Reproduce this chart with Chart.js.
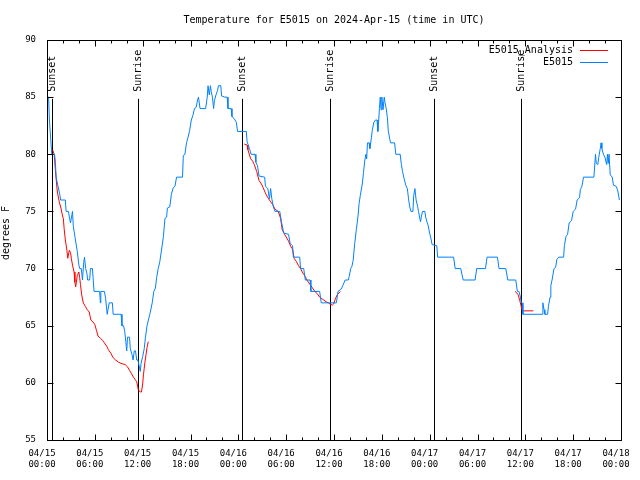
<!DOCTYPE html>
<html><head><meta charset="utf-8">
<script src="https://cdn.jsdelivr.net/npm/chart.js@4"></script>
<style>html,body{margin:0;padding:0;background:#fff}</style>
</head><body>
<canvas id="c" width="640" height="480"></canvas>
<script>
const chartTitle = 'Temperature for E5015 on 2024-Apr-15 (time in UTC)';
const yAxisLabel = 'degrees F';
const xTickDates = ['04/15','04/15','04/15','04/15','04/16','04/16','04/16','04/16','04/17','04/17','04/17','04/17','04/18'];
const xTickTimes = ['00:00','06:00','12:00','18:00','00:00','06:00','12:00','18:00','00:00','06:00','12:00','18:00','00:00'];
const sunHours = [0.6, 11.45, 24.5, 35.45, 48.6, 59.5];
const sunLabels = ['Sunset','Sunrise','Sunset','Sunrise','Sunset','Sunrise'];
const seriesNames = ['E5015_Analysis','E5015'];

const e5015Hours = [0.0,0.2,0.3,0.45,0.6,0.95,1.05,1.15,1.35,1.6,1.7,2.3,2.4,2.7,2.8,2.95,3.2,3.3,3.5,3.8,4.0,4.1,4.3,4.45,4.6,4.7,4.85,5.0,5.1,5.35,5.45,5.7,5.9,6.6,6.7,6.75,7.2,7.35,7.55,7.8,8.2,8.3,9.3,9.4,9.6,9.75,9.9,10.0,10.1,10.35,10.45,10.65,10.8,10.95,11.1,11.25,11.4,11.55,11.7,11.8,12.0,12.2,12.35,12.55,12.75,12.9,13.2,13.4,13.6,13.75,13.95,14.15,14.4,14.6,14.8,15.0,15.1,15.4,15.6,15.85,16.05,16.25,17.0,17.1,17.3,17.5,17.7,17.9,18.1,18.3,18.5,18.7,18.9,19.0,19.2,19.9,20.1,20.2,20.35,20.5,20.6,20.75,20.9,21.0,21.2,21.4,21.5,21.8,21.9,22.3,22.6,22.7,23.1,23.2,23.5,23.75,23.9,25.0,25.1,25.4,25.6,26.1,26.2,26.4,26.6,27.3,27.4,27.7,27.9,28.05,28.2,28.4,28.6,29.2,29.4,29.7,30.3,30.5,30.8,30.9,31.7,31.8,32.2,32.4,33.0,33.1,34.2,34.4,36.3,36.5,36.9,37.1,37.4,37.8,37.9,38.1,38.25,38.4,38.6,38.8,39.0,39.15,39.3,39.55,39.7,39.85,40.0,40.1,40.2,40.4,40.5,40.7,40.8,41.0,41.2,41.4,41.5,41.6,41.7,41.8,41.9,42.0,42.15,42.3,42.4,42.55,42.7,42.8,43.0,43.1,43.6,43.75,44.3,44.45,44.6,44.75,45.0,45.2,45.35,45.5,45.65,45.9,46.0,46.15,46.3,46.5,46.6,46.85,46.95,47.1,47.4,47.5,47.7,47.8,48.0,48.2,48.3,48.9,49.0,51.0,51.2,51.9,52.2,53.7,53.9,55.0,55.2,56.5,56.7,57.55,57.8,58.8,59.0,59.2,59.35,59.5,59.6,59.7,62.1,62.2,62.35,62.45,62.8,62.9,63.1,63.2,63.35,63.6,63.8,63.95,64.2,64.8,64.9,65.1,65.3,65.5,65.8,66.0,66.3,66.5,66.8,66.9,67.1,67.3,68.6,68.8,68.9,69.1,69.2,69.4,69.5,69.6,69.8,70.0,70.2,70.3,70.4,70.5,70.65,70.9,71.05,71.4,71.6,71.8];
const e5015Temps = [85,85,83,81.5,80,80,79.3,78,77.3,76.5,76,76,75,75,74.5,74,75,73.7,72.8,71.5,70.3,70,70,69,70.5,71,70,69.6,69,69,70,70,68,68,67,68,68,67.4,66,67,67,66,66,65,65,64.5,63.5,62.8,64,64,63,62.5,62,62.8,62.8,62,62,61.5,61,61.7,62.3,63,64,65,65.6,66,67,68,68.3,69.2,70,70.6,71.8,72.8,74.4,74.5,75.3,75.4,76.5,77.1,77.2,78,78,79.9,80,81,81.5,82.1,83,83.4,84,84.1,84.8,85,84,84,85,86,85.2,86,85.5,85,84,84.7,85.2,85.6,86,86,85.1,85,85,84,84,83.3,83.1,82.8,82,82,81.1,80.5,80,80,79.3,79,78.1,78,77.2,77,76.1,77,76.1,75.4,75,75,74.1,73.1,73,72.2,72,71,71,70,70,69,69,68,68,67,67,68,68.2,68.5,69,69,69.3,70,70.2,70.7,72.2,73.4,74.5,75.7,76.4,77.4,78.4,79.4,80,79.6,81,81,80.5,81.5,82.1,82.8,83,83,82,82.9,84,85,83.9,85,83.9,85,84.5,84,83.2,82.1,81.3,81,81,80,80,79.1,78.5,78,77.3,77,76.1,75.4,75,75,76.4,77,76,75.4,75,74.1,74.5,75,75,74.5,74,73.8,73.1,72.5,72.1,72,71,71,70,70,69,69,70,70,71,71,70,70,69,69,68,68,67.6,67,67,66,66,67,66.4,66,66,66.7,67.5,68.5,69,70,70.1,70.8,71,71,72,72.8,73,74,74.2,75,75.2,76,76.2,76.9,77.2,78,78,80,79.2,79.1,79.7,80.5,81,80.5,80,79.7,79.1,80,79.2,80,78.2,78,77.3,77.2,76.8,76];

const analysisHours = [0.7,0.9,1.1,1.3,1.55,1.75,1.95,2.05,2.15,2.3,2.5,2.6,2.8,2.95,3.05,3.2,3.4,3.5,3.6,3.8,4.0,4.1,4.2,4.35,4.55,4.8,5.05,5.3,5.5,5.8,6.0,6.2,6.4,6.7,7.0,7.2,7.5,7.7,8.0,8.3,8.6,9.0,9.3,9.8,10.1,10.35,10.6,10.85,11.05,11.25,11.45,11.7,11.85,12.0,12.1,12.3,12.45,12.55,12.7,
  18.0,
  24.75,25.1,25.2,25.55,25.8,26.0,26.3,26.6,26.9,27.1,27.4,27.7,28.0,28.3,28.6,29.0,29.3,29.5,29.8,30.3,30.6,30.8,31.0,31.3,31.5,31.8,32.1,32.4,32.6,33.0,33.3,33.6,33.9,34.2,34.6,35.0,35.3,35.5,35.8,35.95,36.2,36.4,36.8,
  48.0,
  58.7,58.9,59.1,59.3,59.45,59.55,59.7,61.0];
const analysisTemps = [80.4,80,78.2,76.7,75.8,75.3,74.6,74.4,73.5,72.5,71.6,70.9,71.6,71.4,70.9,70.3,69.7,68.8,68.4,69.4,69.7,69.2,68.6,67.7,67,66.7,66.4,66.2,65.5,65.3,65.1,64.6,64.1,63.9,63.7,63.5,63.2,62.9,62.6,62.2,62,61.8,61.7,61.6,61.4,61.1,60.8,60.5,60.3,60.1,59.4,59.2,59.2,59.9,60.7,61.9,62.6,63.1,63.6,
  null,
  80.9,80.8,80.4,79.6,79.4,79.1,78.5,77.7,77.4,77.1,76.6,76.2,75.9,75.6,75.2,75.0,74.4,73.4,73,72.4,71.9,71.7,70.9,70.6,70.3,70.0,69.6,69.3,69.0,68.6,68.3,68.0,67.8,67.5,67.3,67.1,67.0,66.9,66.8,66.9,67.4,67.7,68.0,
  null,
  68.0,67.9,67.7,67.2,66.8,66.4,66.3,66.3];

const MONO = '"DejaVu Sans Mono", monospace';
const RED = '#ff0000', BLUE = '#0080ff';

const toPoints = (xs, ys) => xs.map((x, i) => ({x, y: ys[i]}));

const decor = {
  id: 'decor',
  beforeDatasetsDraw(chart) {
    const {ctx, chartArea: a, scales: {x, y}} = chart;
    ctx.save();
    ctx.strokeStyle = '#000';
    ctx.lineWidth = 1;
    const lineTop = y.getPixelForValue(84.85);
    ctx.font = '10px ' + MONO;
    ctx.fillStyle = '#000';
    sunHours.forEach((h, i) => {
      const px = Math.round(x.getPixelForValue(h)) + 0.5;
      ctx.beginPath(); ctx.moveTo(px, lineTop); ctx.lineTo(px, a.bottom); ctx.stroke();
      ctx.save();
      ctx.translate(px, lineTop - 7);
      ctx.rotate(-Math.PI / 2);
      ctx.textAlign = 'left'; ctx.textBaseline = 'middle';
      ctx.fillText(sunLabels[i], 0, 0);
      ctx.restore();
    });
    ctx.restore();
  },
  afterDraw(chart) {
    const {ctx, chartArea: a, scales: {x, y}} = chart;
    ctx.save();
    ctx.strokeStyle = '#000';
    ctx.lineWidth = 1;
    const L = Math.round(a.left) + 0.5, R = Math.round(a.right) + 0.5;
    const T = Math.round(a.top) + 0.5, B = Math.round(a.bottom) + 0.5;
    ctx.beginPath();
    for (let h = 0; h <= 72; h += 2) {
      const px = Math.round(x.getPixelForValue(h)) + 0.5;
      const len = h % 6 === 0 ? 6 : 3;
      ctx.moveTo(px, B); ctx.lineTo(px, B - len);
      ctx.moveTo(px, T); ctx.lineTo(px, T + len);
    }
    for (let v = 55; v <= 90; v += 5) {
      const py = Math.round(y.getPixelForValue(v)) + 0.5;
      ctx.moveTo(L, py); ctx.lineTo(L + 6, py);
      ctx.moveTo(R, py); ctx.lineTo(R - 6, py);
    }
    ctx.stroke();
    ctx.strokeRect(L, T, R - L, B - T);

    ctx.fillStyle = '#000';
    // title, centred over the plot area
    ctx.font = '10px ' + MONO;
    ctx.textAlign = 'center'; ctx.textBaseline = 'middle';
    ctx.fillText(chartTitle, (a.left + a.right) / 2, 20);

    // legend
    ctx.textAlign = 'right';
    const cols = [RED, BLUE];
    seriesNames.forEach((n, i) => {
      const ly = a.top + 10 + i * 12;
      ctx.fillText(n, a.right - 48, ly);
      ctx.strokeStyle = cols[i];
      ctx.beginPath();
      ctx.moveTo(a.right - 41, Math.round(ly) + 0.5);
      ctx.lineTo(a.right - 13, Math.round(ly) + 0.5);
      ctx.stroke();
    });

    // y axis title
    ctx.save();
    ctx.translate(6, 233);
    ctx.rotate(-Math.PI / 2);
    ctx.textAlign = 'center'; ctx.textBaseline = 'middle';
    ctx.fillText(yAxisLabel, 0, 0);
    ctx.restore();
    ctx.restore();
  }
};

new Chart(document.getElementById('c'), {
  type: 'line',
  data: {
    datasets: [
      {label: seriesNames[0], data: toPoints(analysisHours, analysisTemps), borderColor: RED, borderWidth: 1, pointRadius: 0, tension: 0, spanGaps: false, order: 2},
      {label: seriesNames[1], data: toPoints(e5015Hours, e5015Temps), borderColor: BLUE, borderWidth: 1, pointRadius: 0, tension: 0, order: 1}
    ]
  },
  options: {
    responsive: false,
    animation: false,
    devicePixelRatio: 1,
    layout: {padding: {left: 0, right: 19, top: 40, bottom: 0}},
    plugins: {
      legend: {display: false},
      tooltip: {enabled: false},
      title: {display: false}
    },
    scales: {
      x: {
        type: 'linear', min: 0, max: 72,
        grid: {display: false}, border: {display: false},
        ticks: {
          stepSize: 6, autoSkip: false, maxRotation: 0, minRotation: 0, padding: 0, labelOffset: -5,
          color: '#000', font: {family: MONO, size: 9, lineHeight: 1.25},
          callback: (v) => { const i = Math.round(v / 6); return [xTickDates[i], xTickTimes[i]]; }
        },
        afterFit: (s) => { s.height = 40; s.paddingLeft = 0; s.paddingRight = 0; s.paddingTop = 0; s.paddingBottom = 0; }
      },
      y: {
        min: 55, max: 90,
        grid: {display: false}, border: {display: false},
        ticks: {stepSize: 5, padding: 3, color: '#000', font: {family: MONO, size: 9}},
        afterFit: (s) => { s.width = 47; s.paddingTop = 0; s.paddingBottom = 0; }
      }
    }
  },
  plugins: [decor]
});
</script>
</body></html>
